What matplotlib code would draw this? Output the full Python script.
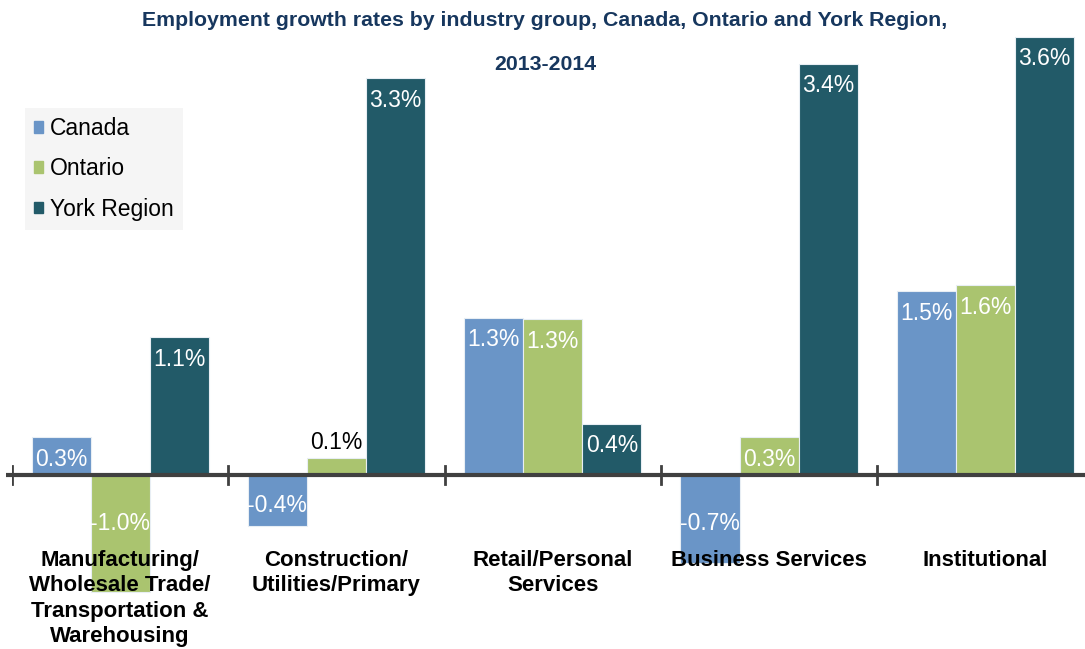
import matplotlib.pyplot as plt
import matplotlib.patches as mpatches
import numpy as np

plt.rcParams['font.family'] = ['Liberation Sans', 'DejaVu Sans']

# data (percent growth 2013-2014)
industries = ['Manufacturing/\nWholesale Trade/\nTransportation &\nWarehousing',
              'Construction/\nUtilities/Primary',
              'Retail/Personal\nServices',
              'Business Services',
              'Institutional']
canada = [0.31, -0.42, 1.29, -0.72, 1.51]
ontario = [-0.96, 0.14, 1.28, 0.31, 1.56]
york = [1.13, 3.26, 0.42, 3.38, 3.60]
series_names = ['Canada', 'Ontario', 'York Region']
colors = ['#6a95c7', '#aac46f', '#225a68']

fig = plt.figure(figsize=(10.85, 6.49), dpi=100)
ax = fig.add_axes([12/1085, 0, 1081.5/1085, 1])
ax.set_xlim(0, 5)
ax.set_ylim(-(649-475)/121.7, 475/121.7)
ax.axis('off')

x = np.arange(len(industries)) + 0.5
w = 0.273
for k, (vals, col) in enumerate(zip([canada, ontario, york], colors)):
    xs = x + (k-1)*w
    ax.bar(xs, vals, width=w, color=col, edgecolor='#e8eef4', linewidth=0.8, zorder=2)
    for xi, v in zip(xs, vals):
        lab = '%.1f%%' % v
        if v >= 0 and v < 0.2:
            ax.text(xi, v+0.13, lab, ha='center', va='center', fontsize=16.5, color='black', zorder=4)
        elif v >= 0:
            ax.text(xi, v-0.18, lab, ha='center', va='center', fontsize=16.5, color='white', zorder=4)
        else:
            ax.text(xi, max(v+0.17, -0.4), lab, ha='center', va='center', fontsize=16.5, color='white', zorder=4)

# category axis at zero with boundary ticks
ax.plot([-0.03, 5], [0, 0], color='#404040', lw=3, zorder=3, clip_on=False, solid_capstyle='butt')
for b in range(5):
    ax.plot([b, b], [-0.07, 0.07], color='#404040', lw=2, zorder=3)

for xi, name in zip(x, industries):
    ax.text(xi, -0.615, name, ha='center', va='top', fontsize=16, fontweight='bold',
            linespacing=1.28, zorder=5)

handles = [mpatches.Patch(color=c, label=n) for c, n in zip(colors, series_names)]
leg = ax.legend(handles=handles, loc='upper left', bbox_to_anchor=(13/1081.5, 1-108/649),
                fontsize=16.5, frameon=True, fancybox=False, borderpad=0.4,
                handlelength=0.4, handleheight=0.4, handletextpad=0.3, labelspacing=0.75,
                borderaxespad=0)
leg.get_frame().set_facecolor('#f3f3f3')
leg.get_frame().set_edgecolor('none')

fig.text(545/1085, 1-20/649, 'Employment growth rates by industry group, Canada, Ontario and York Region,',
         ha='center', va='center', fontsize=15.3, fontweight='bold', color='#17375e')
fig.text(545/1085, 1-64/649, '2013-2014',
         ha='center', va='center', fontsize=15.3, fontweight='bold', color='#17375e')

fig.savefig('out.png', dpi=100)
